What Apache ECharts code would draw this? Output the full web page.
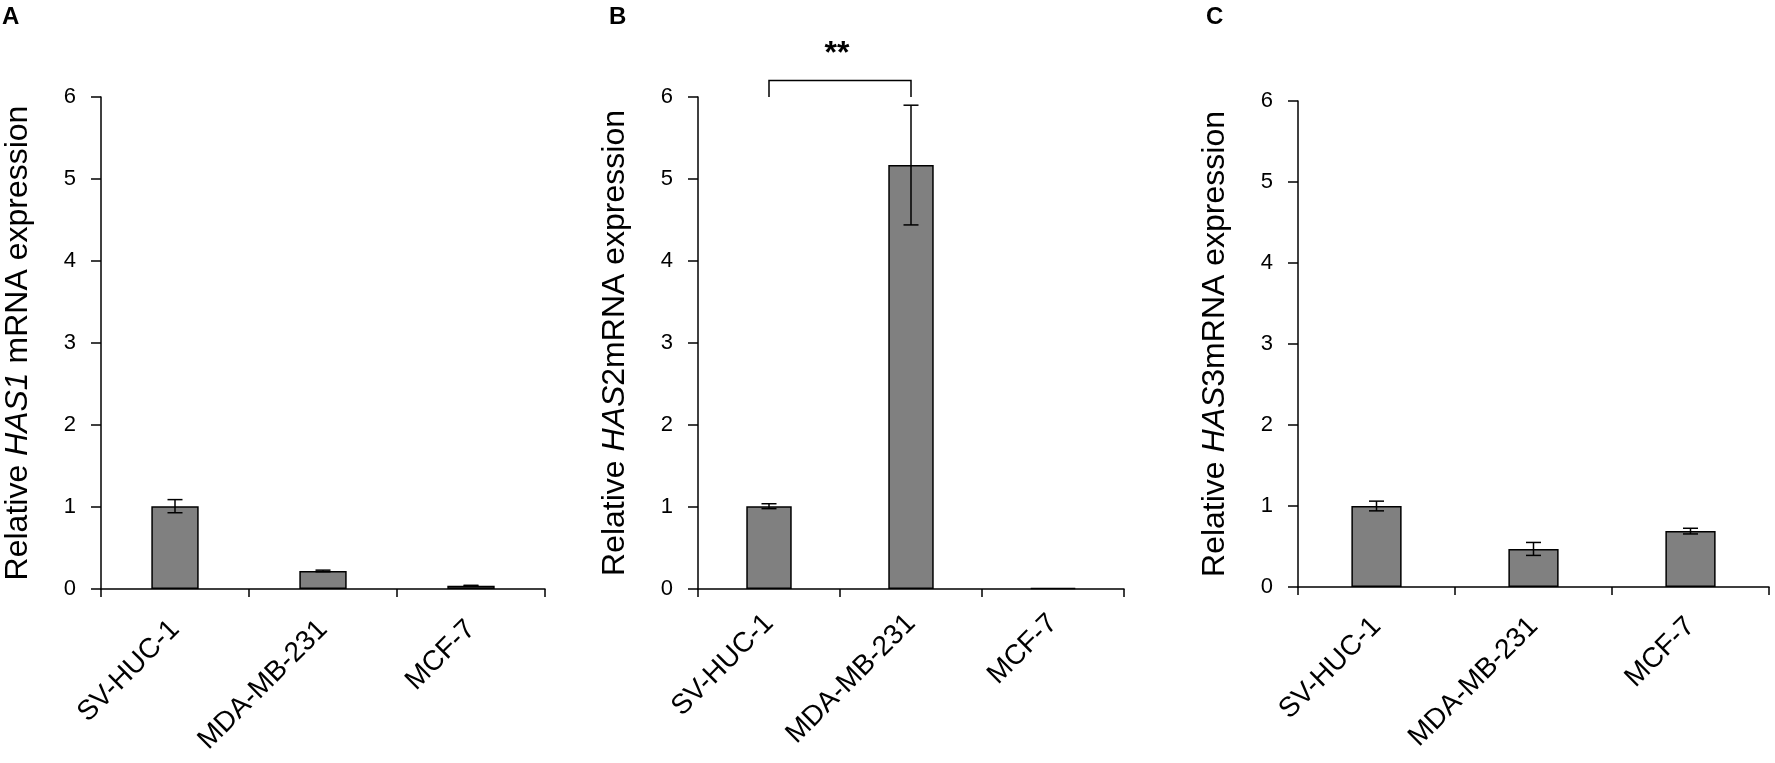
<!DOCTYPE html>
<html lang="en">
<head>
  <meta charset="utf-8">
  <title>HAS mRNA expression</title>
  <script src="https://cdn.jsdelivr.net/npm/echarts@6/dist/echarts.min.js"></script>
  <style>
    html, body { margin: 0; padding: 0; background: #fff; }
    #chart1 { width: 1775px; height: 763px; }
  </style>
</head>
<body>
<div id="chart1"></div>

<script>
  // data
  var categories = ['SV-HUC-1', 'MDA-MB-231', 'MCF-7'];

  var has1Mean = [1.01, 0.22, 0.04];
  var has1Err  = [0.08, 0.01, 0.005];

  var has2Mean = [1.01, 5.17, 0.01];
  var has2Err  = [0.03, 0.73, 0];

  var has3Mean = [1.00, 0.47, 0.69];
  var has3Err  = [0.06, 0.08, 0.035];

  // significance bracket in panel B (category indexes, foot and top values)
  var sigPair  = [0, 1];
  var sigFoot  = 6.0;
  var sigTop   = 6.2;
  var sigLabel = '**';

  var yMin = 0, yMax = 6, yStep = 1;

  var font = '"Liberation Sans", Arial, sans-serif';

  // fixed plot boxes; outerBoundsMode none so v6 does not shrink them for the labels
  var grids = [
    { left: 101,  top: 97,  width: 444, height: 492, outerBoundsMode: 'none' },
    { left: 698,  top: 97,  width: 426, height: 492, outerBoundsMode: 'none' },
    { left: 1298, top: 101, width: 471, height: 486, outerBoundsMode: 'none' }
  ];
  // the three panels were pasted together, their label gaps differ a bit
  var labelMargins = [36, 30, 35];

  var yNames = [
    '{n|Relative }{i|HAS1}{n| mRNA expression}',
    '{n|Relative }{i|HAS}{n|2mRNA expression}',
    '{n|Relative }{i|HAS}{n|3mRNA expression}'
  ];

  var means = [has1Mean, has2Mean, has3Mean];
  var errs  = [has1Err, has2Err, has3Err];

  function errorData(m, e) {
    return m.map(function (v, i) { return [i, v, e[i]]; });
  }

  function renderError(params, api) {
    var x = api.value(0), m = api.value(1), e = api.value(2);
    if (!(e > 0)) return null;
    var hi = api.coord([x, m + e]);
    var lo = api.coord([x, m - e]);
    var cap = 7.5;
    var st = { stroke: '#000', lineWidth: 1.5 };
    return {
      type: 'group',
      children: [
        { type: 'line', shape: { x1: hi[0], y1: hi[1], x2: lo[0], y2: lo[1] }, style: st },
        { type: 'line', shape: { x1: hi[0] - cap, y1: hi[1], x2: hi[0] + cap, y2: hi[1] }, style: st },
        { type: 'line', shape: { x1: lo[0] - cap, y1: lo[1], x2: lo[0] + cap, y2: lo[1] }, style: st }
      ]
    };
  }

  function renderBracket(params, api) {
    var a = api.value(0), b = api.value(1), f = api.value(2), t = api.value(3);
    var p1 = api.coord([a, f]), p2 = api.coord([a, t]);
    var p3 = api.coord([b, t]), p4 = api.coord([b, f]);
    var star = api.coord([a, 6.52]);
    return {
      type: 'group',
      children: [
        {
          type: 'polyline',
          shape: { points: [p1, p2, p3, p4] },
          style: { stroke: '#000', lineWidth: 1.5, fill: null }
        },
        {
          type: 'text',
          x: (p2[0] + p3[0]) / 2 - 3,
          y: star[1],
          style: {
            text: sigLabel, fill: '#000', font: 'bold 32px ' + font,
            align: 'center', verticalAlign: 'middle'
          }
        }
      ]
    };
  }

  var xAxes = [], yAxes = [], series = [];

  for (var k = 0; k < 3; k++) {
    xAxes.push({
      type: 'category',
      gridIndex: k,
      data: categories,
      axisLine: { lineStyle: { color: '#000', width: 1.5 } },
      axisTick: { show: true, length: 8, lineStyle: { color: '#000', width: 1.5 } },
      axisLabel: {
        rotate: 45, margin: labelMargins[k],
        color: '#000', fontSize: 28, fontFamily: font, interval: 0
      },
      splitLine: { show: false }
    });
    yAxes.push({
      type: 'value',
      gridIndex: k,
      min: yMin, max: yMax, interval: yStep,
      name: yNames[k],
      nameLocation: 'middle',
      nameRotate: 90,
      nameGap: 67,
      nameTextStyle: {
        rich: {
          n: { fontSize: 32, fontFamily: font, color: '#000' },
          i: { fontSize: 32, fontFamily: font, color: '#000', fontStyle: 'italic' }
        }
      },
      axisLine: { show: true, lineStyle: { color: '#000', width: 1.5 } },
      axisTick: { show: true, length: 10, lineStyle: { color: '#000', width: 1.5 } },
      axisLabel: { margin: 25, color: '#000', fontSize: 22, fontFamily: font },
      splitLine: { show: false }
    });
    series.push({
      type: 'bar',
      xAxisIndex: k, yAxisIndex: k,
      data: means[k],
      barWidth: '32%',
      itemStyle: { color: '#808080', borderColor: '#000', borderWidth: 1.5 },
      silent: true
    });
    series.push({
      type: 'custom',
      xAxisIndex: k, yAxisIndex: k,
      data: errorData(means[k], errs[k]),
      renderItem: renderError,
      clip: false,
      z: 5,
      silent: true
    });
  }

  series.push({
    type: 'custom',
    xAxisIndex: 1, yAxisIndex: 1,
    data: [[sigPair[0], sigPair[1], sigFoot, sigTop]],
    renderItem: renderBracket,
    clip: false,
    z: 6,
    silent: true
  });

  var letterStyle = { fontSize: 24, fontWeight: 'bold', fontFamily: font, color: '#000' };

  var option = {
    backgroundColor: '#fff',
    animation: false,
    title: [
      { text: 'A', left: 2, top: 5, padding: 0, textStyle: letterStyle },
      { text: 'B', left: 609, top: 5, padding: 0, textStyle: letterStyle },
      { text: 'C', left: 1206, top: 5, padding: 0, textStyle: letterStyle }
    ],
    grid: grids,
    xAxis: xAxes,
    yAxis: yAxes,
    series: series
  };

  var chart1 = echarts.init(document.getElementById('chart1'));
  chart1.setOption(option);
</script>
</body>
</html>
